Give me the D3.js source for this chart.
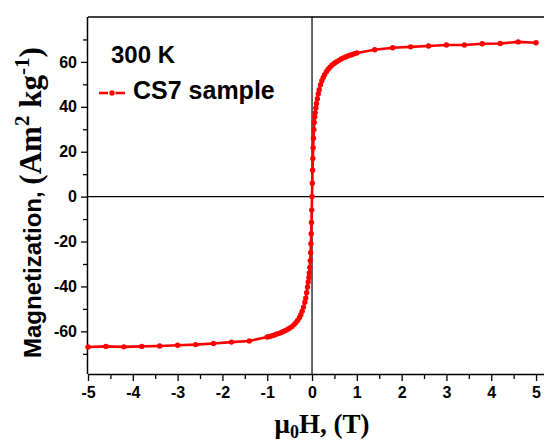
<!DOCTYPE html>
<html><head><meta charset="utf-8">
<script src="https://cdn.jsdelivr.net/npm/d3@7"></script>
<style>html,body{margin:0;padding:0;background:#fff;}svg{display:block;}</style>
</head><body>
<svg id="chart" width="544" height="441"></svg>
<script>
// Field values (T)
const fieldH = [-5.0,-4.6,-4.2,-3.8,-3.4,-3.0,-2.6,-2.2,-1.8,-1.4,-1.0,
 -0.95,-0.9,-0.85,-0.8,-0.75,-0.7,-0.65,-0.6,-0.55,-0.5,-0.45,-0.4,-0.36,-0.32,-0.28,-0.25,-0.22,-0.19,-0.16,-0.14,-0.12,-0.10,-0.085,-0.07,-0.06,-0.05,-0.04,-0.032,-0.025,-0.018,-0.012,-0.006,
 0,0.006,0.012,0.018,0.025,0.032,0.04,0.05,0.06,0.07,0.085,0.10,0.12,0.14,0.16,0.19,0.22,0.25,0.28,0.32,0.36,0.4,0.45,0.5,0.55,0.6,0.65,0.7,0.75,0.8,0.85,0.9,0.95,1.0,
 1.4,1.8,2.2,2.6,3.0,3.4,3.8,4.2,4.6,5.0];
// Magnetization (Am2 kg-1)
const magM = [-67.0,-66.7,-66.9,-66.7,-66.5,-66.2,-65.9,-65.4,-64.8,-64.3,-62.5,
 -62.3,-62.0,-61.7,-61.3,-61.0,-60.6,-60.2,-59.7,-59.2,-58.6,-57.9,-57.0,-56.1,-55.1,-53.8,-52.6,-51.0,-49.2,-47.0,-45.2,-42.8,-40.2,-38.0,-36.0,-34.0,-31.5,-28.5,-25.0,-21.0,-16.5,-11.5,-6.0,
 0.0,6.0,11.8,17.0,21.8,26.0,29.8,33.0,35.5,37.3,39.5,41.5,43.6,45.8,47.6,49.8,51.6,53.1,54.3,55.6,56.7,57.6,58.6,59.4,60.1,60.7,61.3,61.8,62.2,62.6,63.0,63.3,63.7,64.0,
 65.4,66.3,66.7,67.1,67.5,67.5,68.1,68.2,68.9,68.5];

const xTickValues = [-5,-4,-3,-2,-1,0,1,2,3,4,5];
const xMinorValues = [-4.5,-3.5,-2.5,-1.5,-0.5,0.5,1.5,2.5,3.5,4.5];
const yTickValues = [-60,-40,-20,0,20,40,60];
const yMinorValues = [-70,-50,-30,-10,10,30,50,70];
const seriesName = "CS7 sample";
const tempLabel = "300 K";

const svg = d3.select("#chart");
const pL = 88, pR = 545, pT = 17, pB = 374;
const x = d3.scaleLinear().domain([-5, 5.2]).range([pL, pR]);
const y = d3.scaleLinear().domain([-79, 80]).range([pB, pT]);

const data = fieldH.map((h,i)=>({h, m: magM[i]}));
const fmt = d => String(d);

// zero lines
svg.append("line").attr("x1", pL).attr("x2", 544).attr("y1", y(0)).attr("y2", y(0))
  .attr("stroke","#000").attr("stroke-width",1.2);
svg.append("line").attr("x1", x(0)).attr("x2", x(0)).attr("y1", pT).attr("y2", pB)
  .attr("stroke","#000").attr("stroke-width",1.2);

// top frame
svg.append("line").attr("x1", pL).attr("x2", 544).attr("y1", pT).attr("y2", pT)
  .attr("stroke","#000").attr("stroke-width",1.5);

const tickFont = "bold 16px 'Liberation Sans', Arial, sans-serif";

// x axis
const xAxis = d3.axisBottom(x).tickValues(xTickValues).tickSize(7).tickPadding(6).tickFormat(fmt);
const gx = svg.append("g").attr("transform", `translate(0,${pB})`).call(xAxis);
gx.select(".domain").attr("d", `M${pL},0.5H544`).attr("stroke-width",1.5);
gx.selectAll("text").style("font", tickFont).attr("fill","#000");
gx.selectAll(".tick line").attr("stroke-width",1.3);
const xMinor = d3.axisBottom(x).tickValues(xMinorValues).tickSize(5).tickFormat("");
const gxm = svg.append("g").attr("transform", `translate(0,${pB})`).call(xMinor);
gxm.select(".domain").remove();
gxm.selectAll(".tick line").attr("stroke-width",1.3);

// y axis
const yAxis = d3.axisLeft(y).tickValues(yTickValues).tickSize(7).tickPadding(4).tickFormat(fmt);
const gy = svg.append("g").attr("transform", `translate(${pL},0)`).call(yAxis);
gy.select(".domain").attr("d", `M-0.5,${pT}V${pB}`).attr("stroke-width",1.5);
gy.selectAll("text").style("font", tickFont).attr("fill","#000");
gy.selectAll(".tick line").attr("stroke-width",1.3);
const yMinor = d3.axisLeft(y).tickValues(yMinorValues).tickSize(5).tickFormat("");
const gym = svg.append("g").attr("transform", `translate(${pL},0)`).call(yMinor);
gym.select(".domain").remove();
gym.selectAll(".tick line").attr("stroke-width",1.3);

// curve
const line = d3.line().x(d=>x(d.h)).y(d=>y(d.m));
svg.append("path").datum(data).attr("d", line).attr("fill","none")
  .attr("stroke","#ff0000").attr("stroke-width",2.6);
svg.append("g").selectAll("circle").data(data).join("circle")
  .attr("cx", d=>x(d.h)).attr("cy", d=>y(d.m)).attr("r", 2.7).attr("fill","#ff0000");

// legend
svg.append("text").attr("x", 111).attr("y", 63).text(tempLabel)
  .style("font","bold 24px 'Liberation Sans', Arial, sans-serif").attr("fill","#000");
const ly = 93;
svg.append("line").attr("x1",99).attr("x2",108).attr("y1",ly).attr("y2",ly).attr("stroke","#ff0000").attr("stroke-width",2.6);
svg.append("line").attr("x1",115.5).attr("x2",125).attr("y1",ly).attr("y2",ly).attr("stroke","#ff0000").attr("stroke-width",2.6);
svg.append("circle").attr("cx",112).attr("cy",ly).attr("r",2.7).attr("fill","#ff0000");
svg.append("text").attr("x", 133).attr("y", 99).text(seriesName)
  .style("font","bold 25px 'Liberation Sans', Arial, sans-serif").attr("fill","#000");

// y title
const yt = svg.append("text").attr("transform","translate(41,358) rotate(-90)").attr("fill","#000");
yt.append("tspan").text("Magnetization, ").style("font","bold 24px 'Liberation Sans', Arial, sans-serif");
const serif = "'Liberation Serif', 'Times New Roman', serif";
yt.append("tspan").text("(Am").style("font",`bold 31px ${serif}`);
yt.append("tspan").text("2").attr("dy",-12).style("font",`bold 21px ${serif}`);
yt.append("tspan").text(" kg").attr("dy",12).style("font",`bold 31px ${serif}`);
yt.append("tspan").text("-1").attr("dy",-12).style("font",`bold 21px ${serif}`);
yt.append("tspan").text(")").attr("dy",12).style("font",`bold 31px ${serif}`);

// x title
const xt = svg.append("text").attr("x", 322).attr("y", 433).attr("text-anchor","middle").attr("fill","#000");
xt.append("tspan").text("\u03bc").style("font",`bold 27px ${serif}`);
xt.append("tspan").text("0").attr("dy",5).style("font",`bold 18px ${serif}`);
xt.append("tspan").text("H, (T)").attr("dy",-5).style("font",`bold 27px ${serif}`);
</script>
</body></html>
